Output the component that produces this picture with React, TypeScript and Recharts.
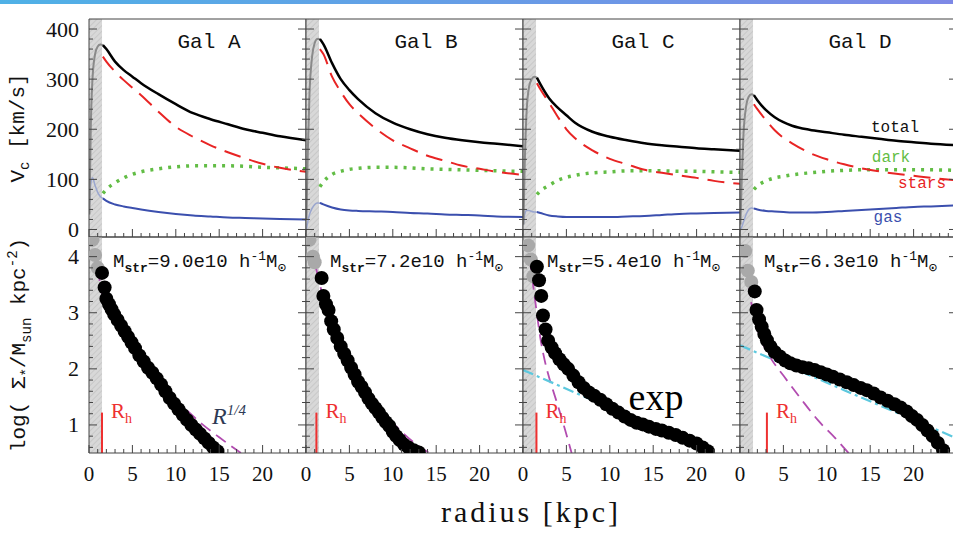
import React from "react";
import {
  ComposedChart,
  Line,
  Scatter,
  XAxis,
  YAxis,
  ReferenceArea,
  ReferenceLine,
} from "recharts";

// ---- rotation curves (km/s), sampled at these radii (kpc) ----
const rOut = [1.6, 2, 3, 4, 5, 6, 8, 10, 12, 14, 16, 18, 20, 22, 25];
const rIn = [0.05, 0.2, 0.4, 0.7, 1.0, 1.3, 1.6];

const totalA = [368, 360, 335, 318, 305, 292, 270, 250, 232, 220, 210, 200, 193, 186, 178];
const starsA = [345, 335, 315, 298, 283, 268, 235, 205, 185, 168, 154, 142, 131, 123, 115];
const darkA = [72, 80, 93, 103, 110, 115, 121, 125, 127, 127, 127, 126, 124, 123, 121];
const gasA = [62, 57, 50, 46, 43, 40, 35, 31, 28, 26, 24, 23, 22, 21, 20];
const totalInA = [30, 200, 300, 350, 365, 369, 368];
const gasInA = [50, 90, 103, 88, 74, 66, 62];

const totalB = [380, 370, 332, 300, 278, 260, 232, 213, 200, 190, 183, 178, 174, 171, 166];
const starsB = [360, 350, 305, 275, 250, 232, 202, 178, 162, 147, 137, 127, 121, 115, 109];
const darkB = [85, 95, 110, 116, 120, 122, 124, 124, 123, 121, 120, 119, 118, 117, 116];
const gasB = [53, 50, 44, 40, 38, 37, 36, 35, 33, 32, 30, 29, 28, 26, 25];
const totalInB = [20, 150, 270, 345, 372, 380, 380];
const gasInB = [0, 15, 30, 42, 50, 53, 53];

const totalC = [303, 290, 262, 243, 228, 213, 195, 185, 178, 172, 168, 165, 162, 160, 157];
const starsC = [292, 280, 253, 225, 200, 182, 158, 141, 130, 119, 113, 108, 103, 97, 91];
const darkC = [70, 77, 88, 98, 104, 108, 113, 115, 117, 117, 117, 116, 116, 115, 114];
const gasC = [35, 33, 28, 26, 25, 25, 25, 25, 26, 27, 29, 31, 32, 33, 34];
const totalInC = [10, 130, 230, 285, 300, 305, 303];
const gasInC = [10, 30, 38, 38, 36, 35, 35];

const totalD = [268, 258, 238, 224, 214, 207, 199, 194, 189, 185, 181, 177, 174, 171, 168];
const starsD = [250, 240, 218, 198, 183, 172, 153, 140, 130, 122, 116, 111, 107, 103, 98];
const darkD = [80, 87, 97, 103, 106, 109, 113, 116, 118, 119, 119, 119, 119, 119, 118];
const gasD = [42, 40, 37, 36, 35, 34, 34, 35, 37, 39, 41, 43, 45, 46, 48];
const totalInD = [10, 100, 190, 245, 265, 270, 268];
const gasInD = [0, 5, 15, 30, 40, 43, 42];

// ---- surface density profiles, log(Sigma) ----
const rPtsA = [1.5, 1.8, 2.0, 2.3, 2.6, 2.9, 3.3, 3.7, 4.1, 4.5, 4.9, 5.3, 5.8, 6.3, 6.8, 7.3, 7.8, 8.3, 8.8, 9.3, 9.8, 10.3, 10.8, 11.3, 11.8, 12.3, 12.8, 13.3, 13.8, 14.3, 14.8];
const logPtsA = [3.71, 3.45, 3.25, 3.15, 3.06, 2.97, 2.87, 2.77, 2.67, 2.57, 2.47, 2.37, 2.24, 2.13, 2.02, 1.93, 1.83, 1.72, 1.6, 1.48, 1.38, 1.28, 1.18, 1.09, 1.0, 0.92, 0.84, 0.76, 0.68, 0.6, 0.53];
const rGreyA = [0.4, 0.7, 1.0];
const logGreyA = [4.3, 4.03, 3.8];
const rDevA = [0.3, 0.7, 1.2, 1.6, 3, 5, 7, 9, 11, 13, 15, 17.5];
const logDevA = [4.45, 4.2, 3.6, 3.28, 2.85, 2.38, 1.97, 1.6, 1.3, 1.02, 0.78, 0.5];

const rPtsB = [1.8, 2.0, 2.3, 2.6, 2.9, 3.2, 3.6, 4.0, 4.4, 4.8, 5.2, 5.6, 6.0, 6.4, 6.8, 7.2, 7.6, 8.0, 8.4, 8.8, 9.2, 9.6, 10.0, 10.4, 10.8, 11.3, 11.8, 12.4, 13.0];
const logPtsB = [3.62, 3.3, 3.15, 3.05, 2.85, 2.7, 2.55, 2.4, 2.27, 2.15, 2.02, 1.9, 1.77, 1.68, 1.58, 1.47, 1.38, 1.3, 1.22, 1.13, 1.05, 0.98, 0.88, 0.8, 0.73, 0.65, 0.6, 0.55, 0.51];
const rGreyB = [0.4, 0.8, 1.0];
const logGreyB = [4.3, 4.0, 3.9];
const rDevB = [0.3, 1.6, 3, 5, 7, 9, 11, 13, 14.2];
const logDevB = [4.45, 3.5, 2.78, 2.12, 1.62, 1.22, 0.88, 0.62, 0.5];

const rPtsC = [1.6, 1.85, 2.1, 2.3, 2.6, 2.9, 3.3, 3.7, 4.2, 4.7, 5.2, 5.8, 6.4, 7.0, 7.6, 8.2, 8.9, 9.6, 10.3, 11.0, 11.7, 12.4, 13.1, 13.8, 14.5, 15.3, 16.0, 16.8, 17.6, 18.4, 19.2, 20.0, 20.7, 21.3];
const logPtsC = [3.82, 3.58, 3.3, 2.95, 2.7, 2.5, 2.38, 2.28, 2.17, 2.08, 2.0, 1.88, 1.76, 1.66, 1.58, 1.52, 1.45, 1.37, 1.29, 1.22, 1.15, 1.09, 1.04, 1.01, 0.97, 0.93, 0.9, 0.86, 0.82, 0.77, 0.72, 0.67, 0.6, 0.53];
const rGreyC = [0.6, 0.9, 1.2];
const logGreyC = [4.2, 3.95, 3.65];
const rDevC = [0.5, 1.0, 1.5, 2.0, 2.5, 3.0, 3.7, 4.5, 5.2, 5.6];
const logDevC = [4.3, 3.7, 3.1, 2.55, 2.15, 1.85, 1.5, 1.1, 0.72, 0.5];
const rExpC = [0, 11, 22];
const logExpC = [1.98, 1.24, 0.49];

const rPtsD = [1.7, 1.9, 2.2, 2.5, 2.8, 3.1, 3.5, 4.0, 4.6, 5.2, 5.8, 6.5, 7.2, 7.9, 8.6, 9.3, 10.0, 10.7, 11.5, 12.3, 13.1, 13.9, 14.6, 15.4, 16.2, 17.0, 17.8, 18.5, 19.2, 19.8, 20.4, 21.0, 21.6, 22.2, 22.8, 23.4];
const logPtsD = [3.38, 3.05, 2.88, 2.75, 2.62, 2.51, 2.4, 2.3, 2.22, 2.15, 2.1, 2.06, 2.03, 2.01, 1.98, 1.94, 1.9, 1.86, 1.81, 1.76, 1.71, 1.66, 1.62, 1.56, 1.49, 1.43, 1.37, 1.31, 1.24, 1.16, 1.09, 1.0, 0.9, 0.8, 0.68, 0.55];
const rGreyD = [0.6, 0.9, 1.3];
const logGreyD = [4.1, 3.75, 3.55];
const rDevD = [0.5, 1.0, 1.5, 2.0, 2.6, 3.5, 5.0, 7.0, 9.0, 11.0, 12.5];
const logDevD = [4.2, 3.5, 3.0, 2.7, 2.46, 2.2, 1.88, 1.47, 1.08, 0.76, 0.5];
const rExpD = [0, 12, 25];
const logExpD = [2.42, 1.62, 0.76];

const rHalf = [1.5, 1.2, 1.55, 3.1];
const galNames = ["Gal A", "Gal B", "Gal C", "Gal D"];
const stellarMass = ["9.0e10", "7.2e10", "5.4e10", "6.3e10"];

// ---- axis ticks ----
const xTicks = [0, 1, 2, 3, 4, 5, 6, 7, 8, 9, 10, 11, 12, 13, 14, 15, 16, 17, 18, 19, 20, 21, 22, 23, 24, 25];
const xMajors = [0, 5, 10, 15, 20];
const vTicks = [0, 20, 40, 60, 80, 100, 120, 140, 160, 180, 200, 220, 240, 260, 280, 300, 320, 340, 360, 380, 400];
const vMajors = [0, 100, 200, 300, 400];
const sTicks = [0.6, 0.8, 1, 1.2, 1.4, 1.6, 1.8, 2, 2.2, 2.4, 2.6, 2.8, 3, 3.2, 3.4, 3.6, 3.8, 4, 4.2];
const sMajors = [1, 2, 3, 4];

const zip = (rs: number[], vs: number[]) => rs.map((r, i) => ({ r, v: vs[i] }));

const tops = [
  { total: totalA, stars: starsA, dark: darkA, gas: gasA, tIn: totalInA, gIn: gasInA },
  { total: totalB, stars: starsB, dark: darkB, gas: gasB, tIn: totalInB, gIn: gasInB },
  { total: totalC, stars: starsC, dark: darkC, gas: gasC, tIn: totalInC, gIn: gasInC },
  { total: totalD, stars: starsD, dark: darkD, gas: gasD, tIn: totalInD, gIn: gasInD },
];
const bots = [
  { pts: zip(rPtsA, logPtsA), grey: zip(rGreyA, logGreyA), dev: zip(rDevA, logDevA), exp: null },
  { pts: zip(rPtsB, logPtsB), grey: zip(rGreyB, logGreyB), dev: zip(rDevB, logDevB), exp: null },
  { pts: zip(rPtsC, logPtsC), grey: zip(rGreyC, logGreyC), dev: zip(rDevC, logDevC), exp: zip(rExpC, logExpC) },
  { pts: zip(rPtsD, logPtsD), grey: zip(rGreyD, logGreyD), dev: zip(rDevD, logDevD), exp: zip(rExpD, logExpD) },
];

const lefts = [89, 306, 523, 740];
const W = 217;
// axes take 1px each side, so the plot box keeps W x H
const PAD = { top: 9, right: 9, bottom: 49, left: 89 };
const serif = '"Liberation Serif", "DejaVu Serif", serif';
const mono = '"Liberation Mono", "DejaVu Sans Mono", monospace';
const frame = "#444";

const tickFn = (side: string, majors: number[], label: boolean) => (p: any) => {
  const { x, y, payload } = p;
  const v = payload.value;
  const major = majors.some((m) => Math.abs(m - v) < 1e-6);
  const len = major ? 8 : 4;
  let x2 = x;
  let y2 = y;
  if (side === "left") x2 = x + len;
  if (side === "right") x2 = x - len;
  if (side === "bottom") y2 = y - len;
  if (side === "top") y2 = y + len;
  return (
    <g>
      <line x1={x} y1={y} x2={x2} y2={y2} stroke={frame} strokeWidth={1} />
      {label && major && side === "left" && (
        <text x={x - 10} y={y} textAnchor="end" dominantBaseline="central" fontFamily={serif} fontSize={22} fill="#111">
          {v}
        </text>
      )}
      {label && major && side === "bottom" && (
        <text x={x} y={y + 21} textAnchor="middle" dominantBaseline="central" fontFamily={serif} fontSize={21} fill="#111">
          {v}
        </text>
      )}
    </g>
  );
};

function axes(yDomain: number[], yTicks: number[], yMajors: number[], showY: boolean, showX: boolean) {
  return [
    <XAxis key="xb" xAxisId={0} dataKey="r" type="number" domain={[0, 25]} ticks={xTicks} interval={0} height={1} tickSize={0} tickMargin={0} tickLine={false} axisLine={{ stroke: frame }} tick={tickFn("bottom", xMajors, showX)} allowDataOverflow />,
    <XAxis key="xt" xAxisId="t" orientation="top" type="number" domain={[0, 25]} ticks={xTicks} interval={0} height={1} tickSize={0} tickMargin={0} tickLine={false} axisLine={{ stroke: frame }} tick={tickFn("top", xMajors, false)} allowDataOverflow />,
    <YAxis key="yl" yAxisId={0} type="number" domain={yDomain} ticks={yTicks} interval={0} width={1} tickSize={0} tickMargin={0} tickLine={false} axisLine={{ stroke: frame }} tick={tickFn("left", yMajors, showY)} allowDataOverflow />,
    <YAxis key="yr" yAxisId="r" orientation="right" type="number" domain={yDomain} ticks={yTicks} interval={0} width={1} tickSize={0} tickMargin={0} tickLine={false} axisLine={{ stroke: frame }} tick={tickFn("right", yMajors, false)} allowDataOverflow />,
  ];
}

function Hatch({ id }: { id: string }) {
  return (
    <defs>
      <pattern id={id} width="4" height="4" patternUnits="userSpaceOnUse" patternTransform="rotate(45)">
        <rect width="4" height="4" fill="#d8d8d8" />
        <line x1="0" y1="0" x2="0" y2="4" stroke="#bdbdbd" strokeWidth="1.2" />
      </pattern>
    </defs>
  );
}

const dot = (r: number, fill: string) => (p: any) => <circle cx={p.cx} cy={p.cy} r={r} fill={fill} />;

function TopPanel({ i }: { i: number }) {
  const g = tops[i];
  const id = "hatchT" + i;
  return (
    <div style={{ position: "absolute", left: lefts[i] - PAD.left - 1, top: 19 - PAD.top - 1 }}>
      <ComposedChart width={W + PAD.left + PAD.right + 2} height={218 + PAD.top + PAD.bottom + 2} margin={PAD}>
        <Hatch id={id} />
        {axes([-15, 420], vTicks, vMajors, i === 0, false)}
        <ReferenceArea x1={0} x2={1.5} fill={`url(#${id})`} fillOpacity={1} stroke="none" />
        <Line data={zip(rIn, g.gIn)} dataKey="v" type="monotone" stroke="#9aa6cf" strokeWidth={1.5} dot={false} isAnimationActive={false} />
        <Line data={zip(rIn, g.tIn)} dataKey="v" type="monotone" stroke="#8a8a8a" strokeWidth={2} dot={false} isAnimationActive={false} />
        <Line data={zip(rOut, g.gas)} dataKey="v" type="monotone" stroke="#3b4fae" strokeWidth={2} dot={false} isAnimationActive={false} />
        <Line data={zip(rOut, g.dark)} dataKey="v" type="monotone" stroke="#62bd45" strokeWidth={3.5} strokeDasharray="3 6" dot={false} isAnimationActive={false} />
        <Line data={zip(rOut, g.stars)} dataKey="v" type="monotone" stroke="#e82424" strokeWidth={2} strokeDasharray="17 9" dot={false} isAnimationActive={false} />
        <Line data={zip(rOut, g.total)} dataKey="v" type="monotone" stroke="#000" strokeWidth={2.5} dot={false} isAnimationActive={false} />
      </ComposedChart>
    </div>
  );
}

function BottomPanel({ i }: { i: number }) {
  const g = bots[i];
  const id = "hatchB" + i;
  return (
    <div style={{ position: "absolute", left: lefts[i] - PAD.left - 1, top: 237 - PAD.top - 1 }}>
      <ComposedChart width={W + PAD.left + PAD.right + 2} height={216 + PAD.top + PAD.bottom + 2} margin={PAD}>
        <Hatch id={id} />
        {axes([0.5, 4.35], sTicks, sMajors, i === 0, true)}
        <ReferenceArea x1={0} x2={1.5} fill={`url(#${id})`} fillOpacity={1} stroke="none" />
        <ReferenceLine segment={[{ x: rHalf[i], y: 0.5 }, { x: rHalf[i], y: 1.22 }]} stroke="#ee3030" strokeWidth={2} />
        <Scatter data={g.grey} dataKey="v" shape={dot(7, "#a9a9a9")} isAnimationActive={false} />
        <Scatter data={g.pts} dataKey="v" shape={dot(7, "#000")} isAnimationActive={false} />
        <Line data={g.dev} dataKey="v" type="monotone" stroke="#b24cb0" strokeWidth={1.8} strokeDasharray="12 7" dot={false} isAnimationActive={false} />
        {g.exp && (
          <Line data={g.exp} dataKey="v" type="linear" stroke="#5cc8de" strokeWidth={2.2} strokeDasharray="11 4 3 4" dot={false} isAnimationActive={false} />
        )}
      </ComposedChart>
    </div>
  );
}

const label = (x: number, y: number, style: React.CSSProperties, content: React.ReactNode, key?: string) => (
  <div key={key} style={{ position: "absolute", left: x, top: y, transform: "translate(-50%, -50%)", whiteSpace: "nowrap", ...style }}>
    {content}
  </div>
);

export default function App() {
  return (
    <div style={{ position: "absolute", left: 0, top: 0, width: 953, height: 533, overflow: "hidden", background: "#fff" }}>
      <div style={{ position: "absolute", left: 0, top: 0, width: 953, height: 4, background: "linear-gradient(90deg, #4fb1e6, #7d88e6)" }} />
      {[0, 1, 2, 3].map((i) => (
        <TopPanel key={"t" + i} i={i} />
      ))}
      {[0, 1, 2, 3].map((i) => (
        <BottomPanel key={"b" + i} i={i} />
      ))}

      {galNames.map((n, i) => label(lefts[i] + 120, 42, { fontFamily: mono, fontSize: 21, color: "#111" }, n, "g" + i))}
      {stellarMass.map((m, i) => (
        <div key={"m" + i} style={{ position: "absolute", left: lefts[i] + 24, top: 249, fontFamily: mono, fontSize: 19, color: "#111", whiteSpace: "nowrap" }}>
          M<sub style={{ fontSize: 13, fontWeight: "bold" }}>str</sub>={m} h<sup style={{ fontSize: 13 }}>-1</sup>M<sub style={{ fontSize: 14 }}>⊙</sub>
        </div>
      ))}
      {rHalf.map((r, i) => (
        <div key={"rh" + i} style={{ position: "absolute", left: lefts[i] + r * 8.68 + 9, top: 399, fontFamily: serif, fontSize: 21, color: "#ee3030", whiteSpace: "nowrap" }}>
          R<sub style={{ fontSize: 14 }}>h</sub>
        </div>
      ))}

      {label(895, 128, { fontFamily: mono, fontSize: 16, color: "#111" }, "total")}
      {label(891, 158, { fontFamily: mono, fontSize: 16, color: "#62bd45" }, "dark")}
      {label(922, 184, { fontFamily: mono, fontSize: 16, color: "#e82424" }, "stars")}
      {label(888, 218, { fontFamily: mono, fontSize: 16, color: "#3b4fae" }, "gas")}

      {label(229, 416, { fontFamily: serif, fontSize: 24, fontStyle: "italic", color: "#2e3a55" }, <span>R<sup style={{ fontSize: 15 }}>1/4</sup></span>)}
      {label(656, 397, { fontFamily: serif, fontSize: 38, color: "#000" }, "exp")}

      {label(20, 128, { fontFamily: mono, fontSize: 21, color: "#111", transform: "translate(-50%, -50%) rotate(-90deg)" }, <span>V<sub style={{ fontSize: 14 }}>c</sub> [km/s]</span>)}
      {label(20, 345, { fontFamily: mono, fontSize: 21, color: "#111", transform: "translate(-50%, -50%) rotate(-90deg)" }, <span>log( Σ<sub style={{ fontSize: 14 }}>*</sub>/M<sub style={{ fontSize: 14 }}>sun</sub> kpc<sup style={{ fontSize: 14 }}>-2</sup>)</span>)}
      {label(531, 512, { fontFamily: serif, fontSize: 30, letterSpacing: 3, color: "#111" }, "radius [kpc]")}
    </div>
  );
}
